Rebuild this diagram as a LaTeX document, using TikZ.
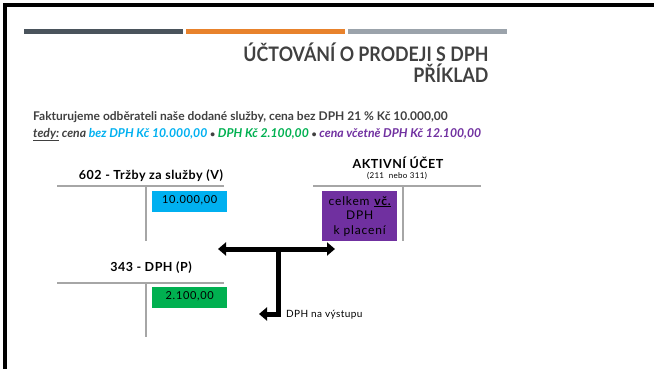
\documentclass[tikz,border=0pt]{standalone}
\usepackage{fontspec}
\setmainfont{Lato}
\usetikzlibrary{arrows.meta}
\definecolor{titlegray}{HTML}{404040}
\definecolor{barslate}{HTML}{4A545C}
\definecolor{barorange}{HTML}{E8822C}
\definecolor{bargray}{HTML}{9BA3AB}
\definecolor{accgray}{HTML}{A6A6A6}
\definecolor{cyanK}{HTML}{00B0F0}
\definecolor{greenK}{HTML}{00B050}
\definecolor{purpleK}{HTML}{7030A0}
\begin{document}
\begin{tikzpicture}[x=1pt,y=-1pt,
    acc/.style={draw=accgray,line width=1.5pt},
    acctitle/.style={anchor=base,font=\bfseries\fontsize{12.5}{15}\selectfont\addfontfeature{LetterSpace=4}},
    entry/.style={anchor=north west,minimum width=75pt,inner xsep=0pt,inner ysep=3pt,
      text height=9pt,text depth=6pt,font=\fontsize{11}{13}\selectfont\addfontfeature{LetterSpace=6}},
    flow/.style={line width=5pt,line join=miter}]
      \useasboundingbox (0,0) rectangle (654,369);
      % frame and bars
      \draw[line width=4pt,line join=miter] (654,5) -- (5,5) -- (5,369);
      \fill[barslate] (24,29) rectangle (183,34);
      \fill[barorange] (186,29) rectangle (345,34);
      \fill[bargray] (348,29) rectangle (507,34);
      % title
      \node[anchor=base east,text=titlegray,font=\bfseries\fontsize{20}{24}\selectfont\addfontfeature{FakeStretch=0.89}]
        (title1) at (492,62) {ÚČTOVÁNÍ O PRODEJI S DPH};
      \node[anchor=base east,text=titlegray,font=\bfseries\fontsize{20}{24}\selectfont\addfontfeature{FakeStretch=0.89}]
        (title2) at (492,83) {PŘÍKLAD};
      \node[anchor=base west,inner sep=0pt,text=titlegray,font=\bfseries\fontsize{12}{14}\selectfont]
        (line1) at (33,121) {Fakturujeme odběrateli naše dodané služby, cena bez DPH 21 \% Kč 10.000,00};
      \node[anchor=base west,inner sep=0pt,text=titlegray,font=\bfseries\itshape\fontsize{12.2}{14}\selectfont]
        (line2) at (33,137) {\underline{tedy:} cena \textcolor{cyanK}{bez DPH Kč 10.000,00} {\small•} \textcolor{greenK}{DPH Kč 2.100,00} {\small•} \textcolor{purpleK}{cena včetně DPH Kč 12.100,00}};
      % accounts
      \node[acctitle] (sales) at (151,179) {602 - Tržby za služby (V)};
      \node[acctitle] (vat) at (151,271) {343 - DPH (P)};
      \node[acctitle] (asset) at (398,168) {AKTIVNÍ ÚČET};
      \node[anchor=base,font=\fontsize{8}{9}\selectfont\addfontfeature{LetterSpace=4}] (assetno) at (397,178) {(211 \ nebo 311)};
      \begin{scope}[acc]
        \draw (57,186) -- (224,186);
        \draw (146,186) -- (146,241);
        \draw (57,283) -- (224,283);
        \draw (146,283) -- (146,337);
        \draw (313,186) -- (481,186);
        \draw (403,186) -- (403,241);
      \end{scope}
      \node[entry,fill=cyanK] (salesamt) at (152,191) {10.000,00};
      \node[entry,fill=greenK] (vatamt) at (152,287) {2.100,00};
      \node[anchor=north west,fill=purpleK,minimum width=75pt,minimum height=50pt,inner sep=0pt,align=center,
        font=\fontsize{12}{14.5}\selectfont\addfontfeature{LetterSpace=7}]
        (assetamt) at (322,191) {celkem \textbf{\underline{vč.}}\\DPH\\k placení};
      % flows
      \coordinate (hub) at (278,249);
      \coordinate (left) at (218,249);
      \coordinate (right) at (335,249);
      \coordinate (down) at (278,314);
      \coordinate (out) at (259,314);
      \draw[flow,{Triangle[width=13pt,length=8pt]}-{Triangle[width=13pt,length=8pt]}] (left) -- (right);
      \draw[flow,-{Triangle[width=13pt,length=8pt]}] (hub) -- (down) -- (out);
      \node[anchor=base west,inner sep=0pt,font=\fontsize{10}{12}\selectfont\addfontfeature{LetterSpace=4}] (outlabel) at (286,317) {DPH na výstupu};
    \end{tikzpicture}
\end{document}
